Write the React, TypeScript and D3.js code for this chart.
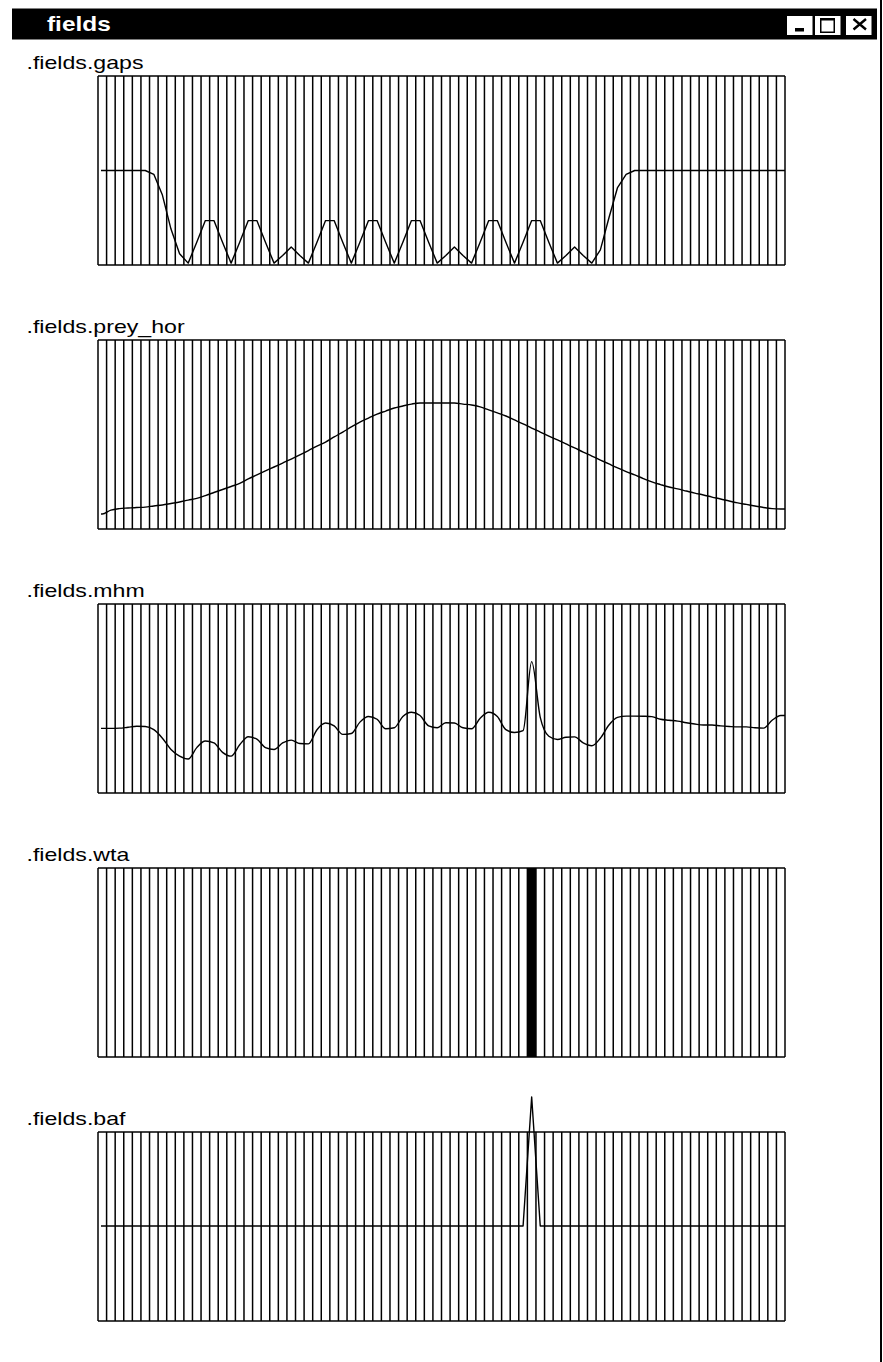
import React from 'react';
import * as d3 from 'd3';

const W = 883, H = 1362;

// field values, one per cell (80 cells)
const gaps = [
  0.5, 0.5, 0.5, 0.5, 0.5, 0.5, 0.48, 0.37, 0.19, 0.06,
  0.01, 0.12, 0.235, 0.235, 0.12, 0.01, 0.12, 0.235, 0.235, 0.12,
  0.01, 0.05, 0.095, 0.05, 0.01, 0.12, 0.235, 0.235, 0.12, 0.01,
  0.12, 0.235, 0.235, 0.12, 0.01, 0.12, 0.235, 0.235, 0.12, 0.01,
  0.05, 0.095, 0.05, 0.01, 0.12, 0.235, 0.235, 0.12, 0.01, 0.12,
  0.235, 0.235, 0.12, 0.01, 0.05, 0.095, 0.05, 0.01, 0.08, 0.25,
  0.41, 0.48, 0.5, 0.5, 0.5, 0.5, 0.5, 0.5, 0.5, 0.5,
  0.5, 0.5, 0.5, 0.5, 0.5, 0.5, 0.5, 0.5, 0.5, 0.5,
];

const preyHor = [
  0.079, 0.100, 0.108, 0.111, 0.114, 0.116, 0.122, 0.127, 0.135, 0.143,
  0.153, 0.162, 0.177, 0.193, 0.209, 0.225, 0.241, 0.265, 0.286, 0.307,
  0.328, 0.349, 0.370, 0.392, 0.415, 0.439, 0.460, 0.487, 0.513, 0.540,
  0.566, 0.587, 0.608, 0.624, 0.640, 0.651, 0.661, 0.667, 0.667, 0.667,
  0.667, 0.667, 0.661, 0.656, 0.646, 0.630, 0.614, 0.598, 0.577, 0.556,
  0.534, 0.513, 0.492, 0.471, 0.450, 0.429, 0.407, 0.386, 0.365, 0.344,
  0.323, 0.304, 0.286, 0.267, 0.249, 0.235, 0.222, 0.212, 0.201, 0.190,
  0.180, 0.169, 0.159, 0.148, 0.138, 0.130, 0.122, 0.114, 0.108, 0.106,
];

const mhm = [
  0.342, 0.342, 0.343, 0.348, 0.353, 0.352, 0.335, 0.29, 0.23, 0.195,
  0.18, 0.24, 0.275, 0.265, 0.215, 0.195, 0.255, 0.298, 0.285, 0.24,
  0.23, 0.265, 0.28, 0.262, 0.26, 0.335, 0.37, 0.355, 0.31, 0.315,
  0.375, 0.405, 0.39, 0.34, 0.345, 0.405, 0.427, 0.41, 0.355, 0.345,
  0.372, 0.37, 0.345, 0.34, 0.395, 0.427, 0.405, 0.335, 0.32, 0.33,
  0.695, 0.40, 0.30, 0.283, 0.295, 0.297, 0.265, 0.25, 0.29, 0.36,
  0.40, 0.407, 0.407, 0.406, 0.404, 0.39, 0.385, 0.38, 0.372, 0.365,
  0.36, 0.36, 0.355, 0.352, 0.35, 0.35, 0.345, 0.343, 0.385, 0.41,
];

const wta = [
  0, 0, 0, 0, 0, 0, 0, 0, 0, 0,
  0, 0, 0, 0, 0, 0, 0, 0, 0, 0,
  0, 0, 0, 0, 0, 0, 0, 0, 0, 0,
  0, 0, 0, 0, 0, 0, 0, 0, 0, 0,
  0, 0, 0, 0, 0, 0, 0, 0, 0, 0,
  1, 0, 0, 0, 0, 0, 0, 0, 0, 0,
  0, 0, 0, 0, 0, 0, 0, 0, 0, 0,
  0, 0, 0, 0, 0, 0, 0, 0, 0, 0,
];

const baf = [
  0.503, 0.503, 0.503, 0.503, 0.503, 0.503, 0.503, 0.503, 0.503, 0.503,
  0.503, 0.503, 0.503, 0.503, 0.503, 0.503, 0.503, 0.503, 0.503, 0.503,
  0.503, 0.503, 0.503, 0.503, 0.503, 0.503, 0.503, 0.503, 0.503, 0.503,
  0.503, 0.503, 0.503, 0.503, 0.503, 0.503, 0.503, 0.503, 0.503, 0.503,
  0.503, 0.503, 0.503, 0.503, 0.503, 0.503, 0.503, 0.503, 0.503, 0.503,
  1.185, 0.503, 0.503, 0.503, 0.503, 0.503, 0.503, 0.503, 0.503, 0.503,
  0.503, 0.503, 0.503, 0.503, 0.503, 0.503, 0.503, 0.503, 0.503, 0.503,
  0.503, 0.503, 0.503, 0.503, 0.503, 0.503, 0.503, 0.503, 0.503, 0.503,
];

const panelNames = ['.fields.gaps', '.fields.prey_hor', '.fields.mhm', '.fields.wta', '.fields.baf'];
const panelData = [gaps, preyHor, mhm, wta, baf];
const panelKinds = ['line', 'line', 'line', 'bar', 'line'];
const panelCurves = [d3.curveLinear, d3.curveMonotoneX, d3.curveMonotoneX, d3.curveLinear, d3.curveLinear];

const left = 98, right = 785, firstTop = 76, gap = 264, ph = 189;
const font = '"Liberation Sans", Arial, sans-serif';

function Panel({ name, values, kind, curve, top }) {
  const x = d3.scaleBand<number>()
    .domain(d3.range(values.length))
    .range([left, right])
    .paddingInner(0)
    .paddingOuter(0);
  const bw = x.bandwidth();
  const y = d3.scaleLinear().domain([0, 1]).range([ph, 0]);

  const pts: [number, number][] = values.map((v, i) => [x(i)! + bw / 2, y(v)]);
  pts.unshift([left + 3, y(values[0])]);
  pts.push([right, y(values[values.length - 1])]);
  const line = d3.line().curve(curve);

  const bounds = d3.range(values.length + 1).map(k => left + k * bw);

  return (
    <g>
      <g transform={`translate(26.5,${top - 7}) scale(1.25,1)`}>
        <text x={0} y={0} fontFamily={font} fontSize={18.5} fill="#000">{name}</text>
      </g>
      <g transform={`translate(0,${top})`}>
        {kind === 'bar' && values.map((v, i) => v > 0 ? (
          <rect key={i} x={x(i)} y={y(v)} width={bw} height={ph - y(v)} fill="#000" />
        ) : null)}
        {bounds.map((bx, k) => (
          <line key={k} x1={bx} x2={bx} y1={0} y2={ph} stroke="#000" strokeWidth={1.5} />
        ))}
        <line x1={left} x2={right} y1={0} y2={0} stroke="#000" strokeWidth={1.5} />
        <line x1={left} x2={right} y1={ph} y2={ph} stroke="#000" strokeWidth={1.5} />
        {kind === 'line' && (
          <path d={line(pts) || ''} fill="none" stroke="#000" strokeWidth={1.4} strokeLinejoin="round" />
        )}
      </g>
    </g>
  );
}

export default function App() {
  return (
    <svg width={W} height={H} style={{ position: 'absolute', left: 0, top: 0, background: '#fff' }}>
      <rect x={0} y={0} width={W} height={H} fill="#fff" />
      {/* title bar */}
      <rect x={12} y={8.5} width={865} height={31} fill="#000" />
      <g transform="translate(47,31) scale(1.22,1)">
        <text x={0} y={0} fontFamily={font} fontWeight="bold" fontSize={20} fill="#fff">fields</text>
      </g>
      <rect x={787} y={16} width={25.5} height={19} fill="#fff" />
      <rect x={795} y={28} width={9} height={3.5} fill="#000" />
      <rect x={815} y={16} width={25.5} height={19} fill="#fff" />
      <rect x={820.75} y={18.75} width={13.5} height={13.5} fill="none" stroke="#000" strokeWidth={1.5} />
      <rect x={820} y={18} width={15} height={2.5} fill="#000" />
      <rect x={846} y={16} width={25.5} height={19} fill="#fff" />
      <path d="M853.5,19 L866,29.5 M866,19 L853.5,29.5" stroke="#000" strokeWidth={2.4} />
      {/* right window edge */}
      <line x1={881} x2={881} y1={0} y2={H} stroke="#000" strokeWidth={2} />
      {panelNames.map((n, i) => (
        <Panel key={n} name={n} values={panelData[i]} kind={panelKinds[i]} curve={panelCurves[i]} top={firstTop + i * gap} />
      ))}
    </svg>
  );
}
